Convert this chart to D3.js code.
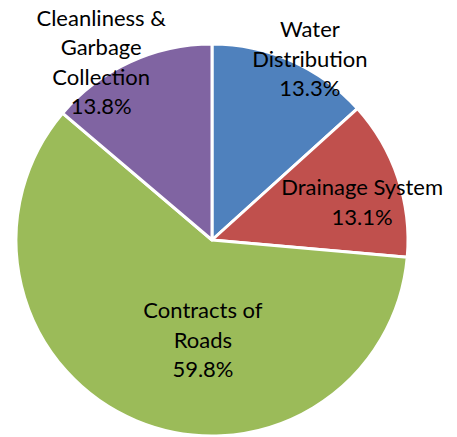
<!DOCTYPE html>
<html>
<head>
<meta charset="utf-8">
<script src="https://cdn.jsdelivr.net/npm/d3@7"></script>
<style>
  html, body { margin: 0; padding: 0; background: #fff; }
  text { font-family: Lato, "Open Sans", sans-serif; font-size: 22px; fill: #000; }
</style>
</head>
<body>
<div class="canvas"></div>
<script>
// data
const categories = ['Water Distribution', 'Drainage System', 'Contracts of Roads', 'Cleanliness & Garbage Collection'];
const shares = [13.3, 13.1, 59.8, 13.8];
const labelLines = [
  ['Water', 'Distribution'],
  ['Drainage System'],
  ['Contracts of', 'Roads'],
  ['Cleanliness &', 'Garbage', 'Collection']
];
const colours = ['#4F81BD', '#C0504D', '#9BBB59', '#8064A2'];

const width = 457, height = 437;
const cx = 212, cy = 240, radius = 196;
const lineHeight = 29.5;

// where each label block sits (angle from 12 o'clock in degrees, distance as share of radius)
const labelSpots = [
  {a: 28.4, k: 1.05},
  {a: 75.8, k: 0.79},
  {a: 185.2, k: 0.51},
  {a: 328.1, k: 1.07}
];

const svg = d3.select('.canvas')
  .append('svg')
  .attr('width', width)
  .attr('height', height)

const g = svg.append('g')
  .attr('transform', `translate(${cx}, ${cy})`)

const pie = d3.pie()
  .value(d => d)
  .sort(null)

const arc = d3.arc()
  .innerRadius(0)
  .outerRadius(radius)

const arcs = pie(shares)

g.selectAll('path')
  .data(arcs)
  .enter()
  .append('path')
  .attr('d', arc)
  .attr('fill', (d, i) => colours[i])
  .attr('stroke', '#fff')
  .attr('stroke-width', 3)
  .attr('stroke-linejoin', 'round')

const labels = g.selectAll('text')
  .data(arcs)
  .enter()
  .append('text')
  .attr('text-anchor', 'middle')
  .attr('transform', (d, i) => {
    const s = labelSpots[i]
    const ang = s.a * Math.PI / 180
    const x = Math.sin(ang) * radius * s.k
    const y = -Math.cos(ang) * radius * s.k
    return `translate(${x}, ${y})`
  })

labels.selectAll('tspan')
  .data((d, i) => labelLines[i].concat([d3.format('.1f')(shares[i]) + '%']))
  .enter()
  .append('tspan')
  .attr('x', 0)
  .text(d => d)

// stack the lines so the block is centred on its anchor
labels.each(function() {
  const spans = d3.select(this).selectAll('tspan')
  const n = spans.size()
  spans.attr('y', (d, j) => (j - (n - 1) / 2) * lineHeight + 8)
})
</script>
</body>
</html>
